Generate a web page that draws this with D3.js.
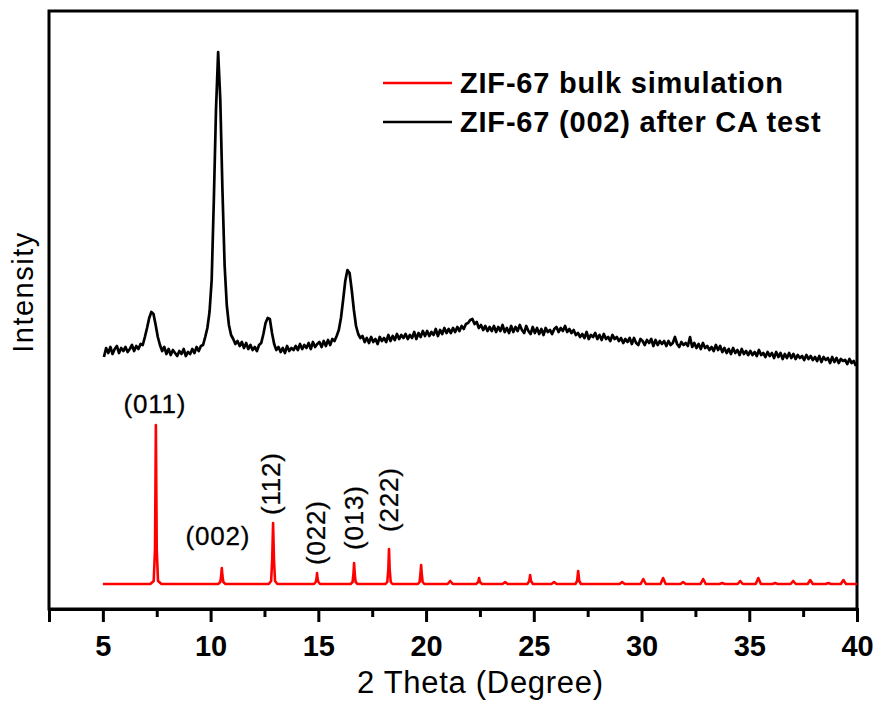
<!DOCTYPE html>
<html>
<head>
<meta charset="utf-8">
<script src="https://cdn.jsdelivr.net/npm/d3@7"></script>
<style>
  html, body { margin: 0; padding: 0; background: #fff; }
  svg { display: block; }
  text { font-family: "Liberation Sans", Arial, Helvetica, sans-serif; fill: #000; }
</style>
</head>
<body>
<svg id="chart" width="880" height="702"></svg>
<script>
// ---------------- DATA ----------------
const xMajorTicks = [5, 10, 15, 20, 25, 30, 35, 40];
const xMinorTicks = [2.5, 7.5, 12.5, 17.5, 22.5, 27.5, 32.5, 37.5];

const seriesNames = ["ZIF-67 bulk simulation", "ZIF-67 (002) after CA test"];
const seriesColors = ["#ff0000", "#000000"];

// Measured pattern (after CA test): intensity on a regular 2θ grid
const blackStart = 5.05;
const blackStep = 0.1;
const blackIntensity = [
  254, 263, 258, 264, 257, 262, 265, 258, 263, 260,
  264, 259, 262, 266, 260, 265, 262, 267, 266, 274,
  283, 293, 299, 297, 286, 274, 266, 260, 264, 257,
  262, 256, 261, 258, 255, 260, 257, 262, 255, 259,
  257, 262, 258, 264, 260, 265, 266, 274, 283, 299,
  331, 411, 501, 559, 511, 421, 346, 306, 286, 276,
  272, 267, 270, 265, 269, 263, 268, 262, 266, 261,
  264, 260, 266, 268, 277, 288, 293, 292, 278, 267,
  261, 264, 259, 263, 258, 265, 260, 263, 261, 265,
  261, 267, 262, 266, 263, 268, 262, 269, 264, 267,
  269, 264, 270, 265, 271, 266, 272, 270, 275, 281,
  293, 311, 330, 341, 338, 321, 301, 285, 277, 273,
  275, 269, 273, 268, 274, 269, 272, 267, 274, 270,
  273, 269, 276, 270, 275, 271, 277, 272, 276, 273,
  277, 272, 276, 273, 279, 272, 278, 274, 280, 275,
  280, 275, 279, 276, 282, 275, 281, 277, 283, 278,
  282, 278, 283, 279, 284, 280, 285, 282, 287, 288,
  291, 292, 287, 289, 283, 286, 281, 285, 280, 284,
  280, 285, 279, 284, 280, 286, 279, 283, 278, 285,
  279, 284, 280, 286, 281, 278, 285, 280, 277, 284,
  278, 283, 277, 282, 276, 283, 279, 281, 277, 282,
  284, 279, 283, 280, 285, 279, 282, 278, 281, 276,
  278, 274, 277, 273, 279, 272, 276, 274, 278, 272,
  276, 271, 277, 272, 274, 270, 276, 272, 274, 270,
  273, 268, 272, 269, 273, 267, 273, 268, 266, 272,
  270, 266, 271, 268, 272, 265, 271, 266, 270, 267,
  270, 265, 270, 266, 268, 274, 267, 264, 269, 266,
  268, 265, 274, 264, 268, 263, 267, 262, 268, 263,
  265, 261, 264, 260, 266, 261, 265, 259, 263, 258,
  262, 257, 263, 258, 261, 256, 262, 257, 260, 256,
  260, 256, 259, 255, 261, 256, 258, 254, 259, 255,
  258, 253, 259, 254, 258, 252, 257, 253, 258, 253,
  257, 252, 256, 253, 255, 251, 256, 252, 255, 251,
  254, 250, 255, 249, 254, 251, 253, 248, 254, 249,
  253, 248, 252, 250, 251, 247, 252, 248, 250, 245
];

// Simulated pattern: [2θ, intensity] points
const redPattern = [
  [5.0,27],
  [7.2,27],[7.36,30],[7.42,62],[7.46,186],[7.50,62],[7.56,30],[7.72,27],
  [10.35,27],[10.45,29],[10.49,35],[10.52,43],[10.55,35],[10.59,29],[10.69,27],
  [12.7,27],[12.81,30],[12.86,52],[12.9,88],[12.94,52],[12.99,30],[13.1,27],
  [14.8,27],[14.88,29],[14.92,33],[14.94,38],[14.96,33],[15.0,29],[15.08,27],
  [16.5,27],[16.59,29],[16.63,37],[16.66,48],[16.69,37],[16.73,29],[16.82,27],
  [18.12,27],[18.2,29],[18.25,42],[18.28,62],[18.31,42],[18.36,29],[18.44,27],
  [19.62,27],[19.7,29],[19.74,37],[19.77,46],[19.8,37],[19.84,29],[19.92,27],
  [21.0,27],[21.12,30],[21.24,27],
  [22.32,27],[22.42,29],[22.46,33],[22.5,29],[22.6,27],
  [23.55,27],[23.67,29],[23.79,27],
  [24.7,27],[24.79,30],[24.83,36],[24.87,30],[24.96,27],
  [25.82,27],[25.94,29],[26.06,27],
  [26.93,27],[27.01,30],[27.06,40],[27.11,30],[27.19,27],
  [28.98,27],[29.1,29],[29.22,27],
  [29.96,27],[30.08,32],[30.2,27],
  [30.88,27],[31.0,33],[31.12,27],
  [31.81,27],[31.93,29],[32.05,27],
  [32.74,27],[32.86,32],[32.98,27],
  [33.62,27],[33.74,28],[33.86,27],
  [34.46,27],[34.58,30],[34.7,27],
  [35.3,27],[35.42,33],[35.54,27],
  [36.08,27],[36.2,28],[36.32,27],
  [36.92,27],[37.04,30],[37.16,27],
  [37.71,27],[37.83,31],[37.95,27],
  [38.55,27],[38.67,28],[38.79,27],
  [39.25,27],[39.37,31],[39.49,27],
  [40.0,27]
];

const peakLabelText = ["(011)", "(002)", "(112)", "(022)", "(013)", "(222)"];
const peakLabelTheta = [7.46, 10.52, 12.9, 14.94, 16.66, 18.28];
const peakLabelTop = [186, 43, 88, 38, 48, 62];

// ---------------- DRAWING ----------------
const svg = d3.select("#chart");
const plotLeft = 49, plotRight = 857, plotTop = 11, plotBottom = 609;

const x = d3.scaleLinear().domain([2.5, 40]).range([plotLeft, plotRight]);
const y = d3.scaleLinear().domain([0, 600]).range([611, 11]);

const blackData = blackIntensity.map((v, i) => [blackStart + i * blackStep, v]);

const line = d3.line().x(d => x(d[0])).y(d => y(d[1]));

// Frame
svg.append("rect")
  .attr("x", plotLeft).attr("y", plotTop)
  .attr("width", plotRight - plotLeft).attr("height", plotBottom - plotTop)
  .attr("fill", "none").attr("stroke", "#000").attr("stroke-width", 3);

// Red simulated curve
svg.append("path").datum(redPattern)
  .attr("d", line).attr("fill", "none")
  .attr("stroke", seriesColors[0]).attr("stroke-width", 2.6)
  .attr("stroke-linejoin", "round");

// Black measured curve
svg.append("path").datum(blackData)
  .attr("d", line).attr("fill", "none")
  .attr("stroke", seriesColors[1]).attr("stroke-width", 2.7)
  .attr("stroke-linejoin", "round");

// X axis major
const axisMajor = d3.axisBottom(x).tickValues(xMajorTicks).tickSize(13).tickPadding(13)
  .tickFormat(d3.format("d"));
const gMaj = svg.append("g").attr("transform", `translate(0,${plotBottom})`).call(axisMajor);
gMaj.select(".domain").attr("stroke-width", 3);
gMaj.selectAll(".tick line").attr("stroke-width", 3);
gMaj.selectAll(".tick text")
  .style("font-size", "29px").style("font-weight", "bold")
  .style("font-family", '"Liberation Sans", Arial, sans-serif');

// X axis minor
const axisMinor = d3.axisBottom(x).tickValues(xMinorTicks).tickSize(8).tickFormat("");
const gMin = svg.append("g").attr("transform", `translate(0,${plotBottom})`).call(axisMinor);
gMin.select(".domain").remove();
gMin.selectAll(".tick line").attr("stroke-width", 3);

// Axis titles
svg.append("text")
  .attr("x", 357).attr("y", 693)
  .style("font-size", "31px").style("letter-spacing", "0.7px")
  .text("2 Theta (Degree)");

svg.append("text")
  .attr("transform", "translate(33,292) rotate(-90)")
  .attr("text-anchor", "middle")
  .style("font-size", "29px").style("letter-spacing", "1.5px")
  .text("Intensity");

// Legend
const legend = svg.append("g");
[0, 1].forEach(i => {
  const ly = 83 + i * 39;
  legend.append("line")
    .attr("x1", 383).attr("x2", 452).attr("y1", ly).attr("y2", ly)
    .attr("stroke", seriesColors[i]).attr("stroke-width", 2.6);
  legend.append("text")
    .attr("x", 460).attr("y", ly + 10)
    .style("font-size", "29px").style("font-weight", "bold")
    .style("letter-spacing", "0.8px")
    .text(seriesNames[i]);
});

// Peak labels
const labelLayout = [
  { rot: false, dx: -1, dy: -12.5 },
  { rot: false, dx: -4, dy: -23.5 },
  { rot: true, dx: 6.5, dy: -8 },
  { rot: true, dx: 7.5, dy: -8 },
  { rot: true, dx: 8.5, dy: -13 },
  { rot: true, dx: 8.5, dy: -17 }
];
peakLabelText.forEach((t, i) => {
  const px = x(peakLabelTheta[i]) + labelLayout[i].dx;
  const py = y(peakLabelTop[i]) + labelLayout[i].dy;
  const txt = svg.append("text")
    .style("font-size", "26px").style("letter-spacing", "0.8px")
    .style("stroke", "#000").style("stroke-width", "0.3px")
    .text(t);
  if (labelLayout[i].rot) {
    txt.attr("transform", `translate(${px},${py}) rotate(-90)`).attr("text-anchor", "start");
  } else {
    txt.attr("x", px).attr("y", py).attr("text-anchor", "middle");
  }
});
</script>
</body>
</html>
